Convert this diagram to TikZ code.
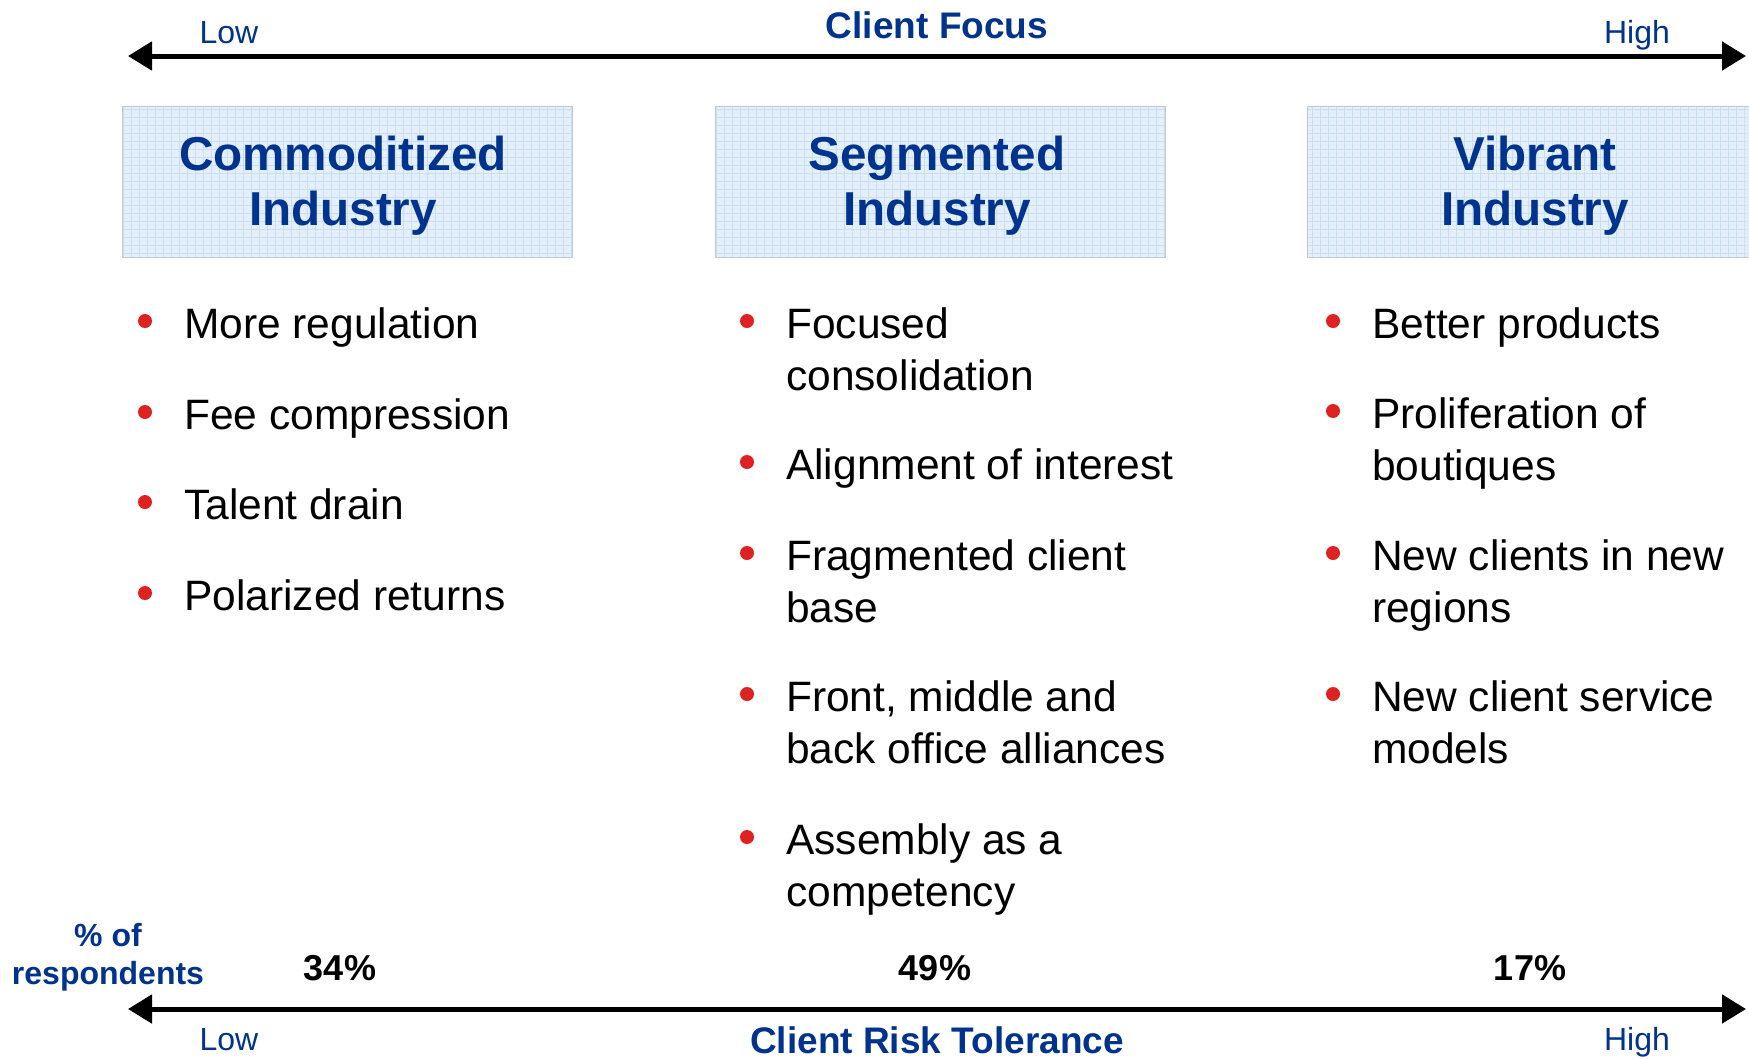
\documentclass[tikz,border=0pt]{standalone}
\usepackage{fontspec}
\setmainfont{Liberation Sans}
\usetikzlibrary{arrows.meta}
\definecolor{navy}{RGB}{0,51,141}
\definecolor{bulletred}{RGB}{222,34,34}
\definecolor{boxfill}{RGB}{228,239,250}
\definecolor{gridline}{RGB}{200,222,242}
\definecolor{boxedge}{RGB}{192,200,208}
\begin{document}
\begin{tikzpicture}[x=1pt,y=-1pt,
  axis/.style={line width=5pt,{Triangle[length=24pt,width=28pt]}-{Triangle[length=24pt,width=28pt]}},
  lowhigh/.style={text=navy,font=\fontsize{32}{38}\selectfont,anchor=base,inner sep=0pt},
  axistitle/.style={text=navy,font=\bfseries\fontsize{37}{44}\selectfont,anchor=base,inner sep=0pt},
  catbox/.style={draw=boxedge,line width=1pt,fill=boxfill,minimum width=450pt,minimum height=151pt,inner sep=0pt,
    path picture={\draw[gridline,line width=0.7pt] (path picture bounding box.south west) grid[step=8pt] (path picture bounding box.north east);}},
  cattitle/.style={align=center,text=navy,font=\bfseries\fontsize{47.6}{55}\selectfont,inner sep=0pt,anchor=base},
  dot/.style={circle,fill=bulletred,minimum size=14pt,inner sep=0pt},
  item/.style={anchor=base west,align=left,inner sep=0pt,font=\fontsize{42.5}{52}\selectfont},
  pct/.style={anchor=base,inner sep=0pt,font=\bfseries\fontsize{36}{42}\selectfont},
]
\useasboundingbox (0,0) rectangle (1749,1058);
\clip (0,0) rectangle (1749,1058);
\fill[white] (0,0) rectangle (1749,1058);

% top axis
\coordinate (tl) at (128,56);
\coordinate (tr) at (1746,56);
\draw[axis] (tl) -- (tr);
\node[lowhigh] (tlow) at (229,43) {Low};
\node[lowhigh] (thigh) at (1637,43) {High};
\node[axistitle] (ttitle) at (937,38) {Client Focus};

% boxes
\node[catbox] (b1) at (347.5,181.5) {};
\node[catbox] (b2) at (940.5,181.5) {};
\node[catbox,minimum width=458pt] (b3) at (1536,181.5) {};
\node[cattitle] (t1) at (343,225) {Commoditized\\Industry};
\node[cattitle] (t2) at (937,225) {Segmented\\Industry};
\node[cattitle] (t3) at (1535,225) {Vibrant\\Industry};

% left column
\node[dot] (d11) at (145,321) {};
\node[item] (i11) at (184,338) {More regulation};
\node[dot] (d12) at (145,412) {};
\node[item] (i12) at (184,429) {Fee compression};
\node[dot] (d13) at (145,502) {};
\node[item] (i13) at (184,519) {Talent drain};
\node[dot] (d14) at (145,593) {};
\node[item] (i14) at (184,610) {Polarized returns};

% middle column
\node[dot] (d21) at (747,321) {};
\node[item] (i21) at (786,390) {Focused\\consolidation};
\node[dot] (d22) at (747,462) {};
\node[item] (i22) at (786,479) {Alignment of interest};
\node[dot] (d23) at (747,553) {};
\node[item] (i23) at (786,622) {Fragmented client\\base};
\node[dot] (d24) at (747,694) {};
\node[item] (i24) at (786,763) {Front, middle and\\back office alliances};
\node[dot] (d25) at (747,837) {};
\node[item] (i25) at (786,906) {Assembly as a\\competency};

% right column
\node[dot] (d31) at (1333,321) {};
\node[item] (i31) at (1372,338) {Better products};
\node[dot] (d32) at (1333,411) {};
\node[item] (i32) at (1372,480) {Proliferation of\\boutiques};
\node[dot] (d33) at (1333,553) {};
\node[item] (i33) at (1372,622) {New clients in new\\regions};
\node[dot] (d34) at (1333,694) {};
\node[item] (i34) at (1372,763) {New client service\\models};

% bottom
\node[text=navy,font=\bfseries\fontsize{32}{38}\selectfont,align=center,anchor=base,inner sep=0pt] (resp) at (108,984) {\% of\\respondents};
\node[pct] (p1) at (340,980) {34\%};
\node[pct] (p2) at (935,980) {49\%};
\node[pct] (p3) at (1530,980) {17\%};

\coordinate (bl) at (128,1009);
\coordinate (br) at (1746,1009);
\draw[axis] (bl) -- (br);
\node[lowhigh] (blow) at (229,1050) {Low};
\node[lowhigh] (bhigh) at (1637,1050) {High};
\node[axistitle] (btitle) at (937,1053) {Client Risk Tolerance};
\end{tikzpicture}
\end{document}
